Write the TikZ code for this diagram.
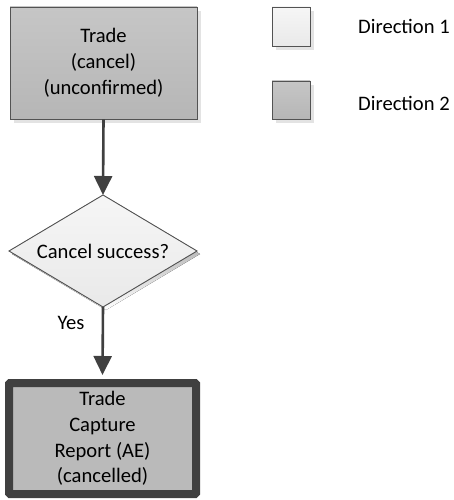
\documentclass[tikz,border=0pt]{standalone}
\usepackage{fontspec}
\setmainfont{Carlito}
\usetikzlibrary{arrows.meta,shadows,calc}
\definecolor{edge}{HTML}{404040}
\definecolor{darkfillA}{HTML}{C6C6C6}
\definecolor{darkfillB}{HTML}{B6B6B6}
\definecolor{lightfillA}{HTML}{F6F6F6}
\definecolor{lightfillB}{HTML}{E9E9E9}
\definecolor{shade}{HTML}{E3E3E3}
\begin{document}
\begin{tikzpicture}[x=1pt,y=-1pt,
  every node/.style={font=\fontsize{20.6}{25.8}\selectfont, text=black},
  softshadow/.style={general shadow={fill=shade, shadow xshift=4pt, shadow yshift=-4pt}},
  darkbox/.style={rectangle, draw=edge!90, line width=0.9pt, top color=darkfillA, bottom color=darkfillB,
    align=center, inner sep=0pt, softshadow},
  lightbox/.style={rectangle, draw=edge!90, line width=0.9pt, top color=lightfillA, bottom color=lightfillB,
    inner sep=0pt, softshadow},
  endbox/.style={rectangle, draw=edge, line width=8pt, rounded corners=1pt, fill=darkfillB!95!white,
    align=center, inner sep=0pt},
  flow/.style={draw=edge, line width=2.6pt, -{Triangle[width=18pt,length=19pt]}},
  plain/.style={inner sep=0pt, anchor=west}]
\useasboundingbox (0,0) rectangle (454,500);

% start of the flow
\node[darkbox, minimum width=187pt, minimum height=112pt] (trade) at (103.5,63) {Trade\\(cancel)\\(unconfirmed)};

% decision
\coordinate (dc) at (103,251);
\coordinate (dn) at (103,195);
\coordinate (ds) at (103,307);
\coordinate (dw) at (9,251);
\coordinate (de) at (197,251);
\fill[shade] ($(dn)+(3,3)$) -- ($(de)+(3,3)$) -- ($(ds)+(3,3)$) -- ($(dw)+(3,3)$) -- cycle;
\filldraw[draw=edge!90, line width=0.9pt, top color=lightfillA, bottom color=lightfillB]
  (dn) -- (de) -- (ds) -- (dw) -- cycle;
\node[inner sep=0pt] (dtext) at (dc) {Cancel success?};

% end of the flow
\node[endbox, minimum width=187pt, minimum height=111pt] (report) at (102.5,438.5)
  {Trade\\Capture\\Report (AE)\\(cancelled)};

% connectors
\draw[flow] (trade.south) -- (dn);
\draw[flow] (ds) -- ($(report.north)+(0,-4)$);
\node[inner sep=0pt] (yes) at (71,323) {Yes};

% legend
\node[lightbox, minimum width=38pt, minimum height=39pt] (key1) at (291,26.5) {};
\node[darkbox, minimum width=38pt, minimum height=38pt] (key2) at (291,100) {};
\node[plain] (lab1) at (358,26) {Direction 1};
\node[plain] (lab2) at (358,103) {Direction 2};
\end{tikzpicture}
\end{document}
